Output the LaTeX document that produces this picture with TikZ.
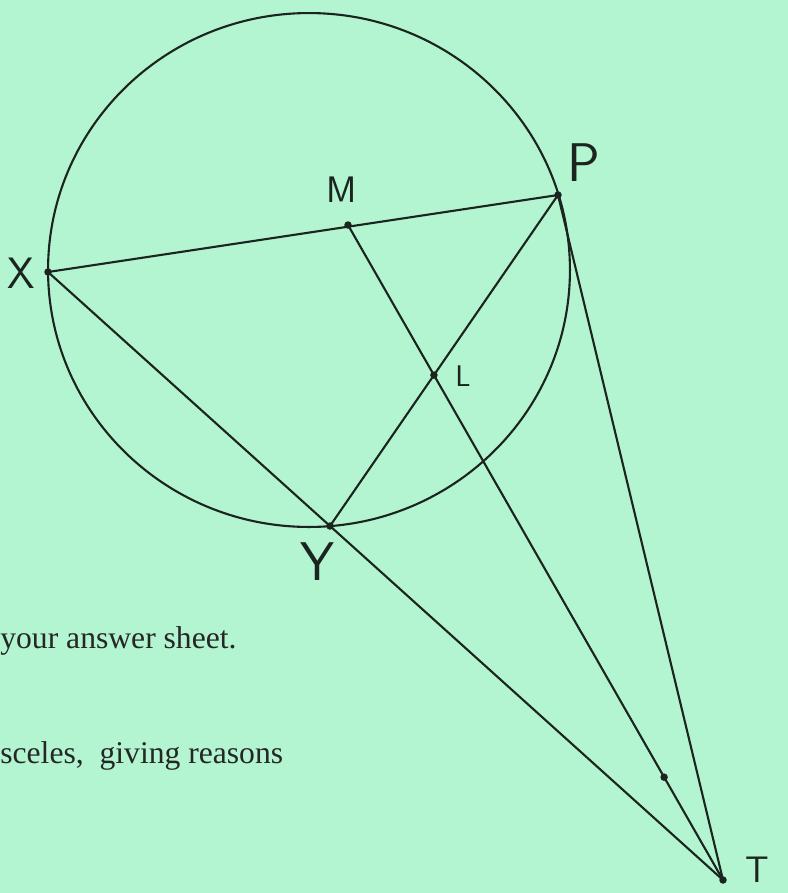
\documentclass[tikz,border=0pt]{standalone}
\usepackage{fontspec}
\usetikzlibrary{calc}
\newfontfamily\sheetfont{Liberation Serif}
\definecolor{mint}{RGB}{178,245,208}
\definecolor{ink}{RGB}{28,36,32}

\begin{document}
\begin{tikzpicture}[x=0.02cm,y=-0.02cm,
  geo/.style={draw=ink,line width=1.2pt},
  dot/.style={fill=ink},
  hand/.style={font=\fontsize{#1}{#1}\sffamily\selectfont,text=ink,inner sep=0pt},
  sheet/.style={font=\fontsize{18}{18}\sheetfont,text=black!85,inner sep=0pt,anchor=base west}
]
\fill[mint] (0,0) rectangle (788,893);
\useasboundingbox (0,0) rectangle (788,893);

% points of the figure
\coordinate (O) at (309,270);
\coordinate (X) at (48,272);
\coordinate (P) at (558,195);
\coordinate (M) at (348,225);
\coordinate (Y) at (330,526);
\coordinate (T) at (723,880);
\coordinate (L) at (intersection of M--T and P--Y);
\coordinate (mk) at ($(M)!0.843!(T)$);

\draw[geo] (O) ellipse [x radius=5.22cm,y radius=5.14cm];
\draw[geo] (X) -- (P);
\draw[geo] (X) -- (T);
\draw[geo] (M) -- (T);
\draw[geo] (P) -- (Y);
\draw[geo] (P) -- (T);

\foreach \p in {X,P,M,Y,T,L,mk}
  \fill[dot] (\p) circle[radius=0.075cm];

% labels
\node[hand=25] (lx) at (21,273) {X};
\node[hand=21] (lm) at (342,190) {M};
\node[hand=31] (lp) at (584,163) {P};
\node[hand=17] (ll) at (463,376) {L};
\node[hand=31] (ly) at (318,562) {Y};
\node[hand=21] (lt) at (757,870) {T};

\node[sheet] (s1) at (0,648) {your answer sheet.};
\node[sheet] (s2) at (0,763) {sceles,\ \ giving reasons};
\end{tikzpicture}
\end{document}
